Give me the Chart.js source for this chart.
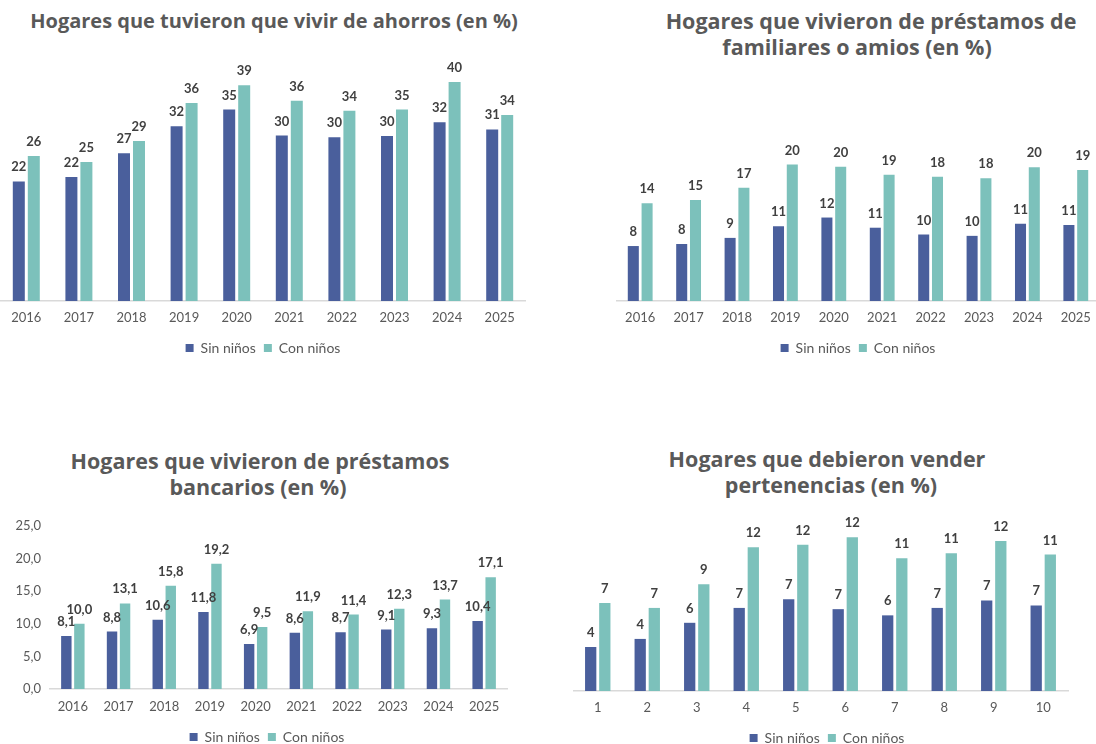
<!DOCTYPE html>
<html>
<head>
<meta charset="utf-8">
<script src="https://cdn.jsdelivr.net/npm/chart.js@4.4.1/dist/chart.umd.min.js"></script>
<style>
  html, body { margin: 0; padding: 0; background: #fff; }
  body { width: 1096px; height: 744px; overflow: hidden; position: relative; font-family: Lato, sans-serif; }
  .title { position: absolute; font-family: 'Open Sans', sans-serif; font-weight: 700; font-size: 21.5px; line-height: 26px; color: #595959; white-space: nowrap; transform: translateX(-50%); }
  .title.small { font-size: 20px; }
  canvas { position: absolute; }
</style>
</head>
<body>
<div class="title small" style="left:274px; top:8px">Hogares que tuvieron que vivir de ahorros (en %)</div>
<div class="title" style="left:871px; top:8px">Hogares que vivieron de préstamos de</div>
<div class="title" style="left:857px; top:34px">familiares o amios (en %)</div>
<div class="title" style="left:260px; top:448px">Hogares que vivieron de préstamos</div>
<div class="title" style="left:258px; top:474px">bancarios (en %)</div>
<div class="title" style="left:827px; top:446px">Hogares que debieron vender</div>
<div class="title" style="left:831px; top:472px">pertenencias (en %)</div>

<canvas id="ahorros" width="526" height="313" style="left:0px; top:52px"></canvas>
<canvas id="familiares" width="484" height="254" style="left:616px; top:111px"></canvas>
<canvas id="bancarios" width="534" height="245" style="left:0px; top:509px"></canvas>
<canvas id="vender" width="508" height="250" style="left:573px; top:505px"></canvas>

<script>
const years = ['2016', '2017', '2018', '2019', '2020', '2021', '2022', '2023', '2024', '2025'];
const deciles = ['1', '2', '3', '4', '5', '6', '7', '8', '9', '10'];
const seriesNames = ['Sin niños', 'Con niños'];

const ahorrosSin = [21.6, 22.4, 26.7, 31.6, 34.6, 29.9, 29.6, 29.8, 32.3, 31.0];
const ahorrosCon = [26.2, 25.1, 28.9, 35.8, 39.0, 36.2, 34.4, 34.6, 39.6, 33.6];

const familiaresSin = [8.1, 8.4, 9.3, 11.0, 12.3, 10.8, 9.8, 9.6, 11.4, 11.2];
const familiaresCon = [14.4, 14.9, 16.7, 20.1, 19.8, 18.6, 18.3, 18.1, 19.7, 19.3];

const bancariosSin = [8.1, 8.8, 10.6, 11.8, 6.9, 8.6, 8.7, 9.1, 9.3, 10.4];
const bancariosCon = [10.0, 13.1, 15.8, 19.2, 9.5, 11.9, 11.4, 12.3, 13.7, 17.1];

const venderSin = [3.55, 4.2, 5.5, 6.7, 7.4, 6.6, 6.1, 6.7, 7.3, 6.9];
const venderCon = [7.1, 6.7, 8.6, 11.6, 11.8, 12.4, 10.7, 11.1, 12.1, 11.0];

const sinColor = '#4a5f9c';
const conColor = '#7cc1bb';
const textColor = '#595959';

// numbers above the bars
const valueLabels = {
    id: 'valueLabels',
    afterDatasetsDraw(chart, args, opts) {
        const ctx = chart.ctx;
        ctx.save();
        ctx.font = 'bold 13px Lato';
        ctx.fillStyle = '#404040';
        ctx.textAlign = 'center';
        ctx.textBaseline = 'alphabetic';
        chart.data.datasets.forEach((ds, i) => {
            chart.getDatasetMeta(i).data.forEach((bar, j) => {
                const v = ds.data[j];
                const txt = opts.decimals ? v.toFixed(1).replace('.', ',') : String(Math.round(v));
                ctx.fillText(txt, bar.x, bar.y - 10);
            });
        });
        ctx.restore();
    }
};

function makeChart(id, labels, sin, con, cfg) {
    const scales = {
        x: {
            grid: { display: false, drawTicks: false },
            border: { color: '#d9d9d9', width: 1.5 },
            ticks: { color: textColor, font: { family: 'Lato', size: 13 }, padding: cfg.tickPad },
            afterFit(scale) { scale.height = cfg.axisH; },
        },
        y: {
            display: cfg.showY,
            min: 0,
            max: cfg.max,
            grid: { display: false, drawTicks: false },
            border: { display: false },
            ticks: {
                stepSize: 5,
                color: textColor,
                font: { family: 'Lato', size: 13 },
                padding: 9,
                callback: v => v.toFixed(1).replace('.', ','),
            },
        },
    };
    if (cfg.showY) {
        scales.y.afterFit = scale => { scale.width = 50; };
    }
    if (cfg.rightPad) {
        scales.pad = {
            position: 'right',
            grid: { display: false, drawTicks: false },
            border: { display: false },
            ticks: { display: false },
            afterFit(scale) { scale.width = cfg.rightPad; },
        };
    }
    return new Chart(document.getElementById(id).getContext('2d'), {
        type: 'bar',
        data: {
            labels: labels,
            datasets: [
                { label: seriesNames[0], data: sin, backgroundColor: sinColor },
                { label: seriesNames[1], data: con, backgroundColor: conColor },
            ],
        },
        options: {
            responsive: false,
            animation: false,
            devicePixelRatio: 1,
            categoryPercentage: 0.57,
            barPercentage: 0.8,
            layout: { padding: { top: cfg.padTop || 0, left: 0, right: 0, bottom: 0 } },
            scales: scales,
            plugins: {
                legend: {
                    position: 'bottom',
                    labels: {
                        boxWidth: 8,
                        boxHeight: 8,
                        padding: 8,
                        color: textColor,
                        font: { family: 'Lato', size: 14 },
                    },
                },
                tooltip: { enabled: false },
                valueLabels: { decimals: cfg.decimals || 0 },
            },
        },
        plugins: [valueLabels],
    });
}

makeChart('ahorros', years, ahorrosSin, ahorrosCon, { max: 45, showY: false, axisH: 32, tickPad: 9 });
makeChart('familiares', years, familiaresSin, familiaresCon, { max: 28, showY: false, axisH: 32, tickPad: 9 });
makeChart('bancarios', years, bancariosSin, bancariosCon, { max: 25, showY: true, axisH: 33, tickPad: 10, padTop: 10, rightPad: 27, decimals: 1 });
makeChart('vender', deciles, venderSin, venderCon, { max: 15, showY: false, axisH: 32, tickPad: 9, rightPad: 13 });
</script>
</body>
</html>
